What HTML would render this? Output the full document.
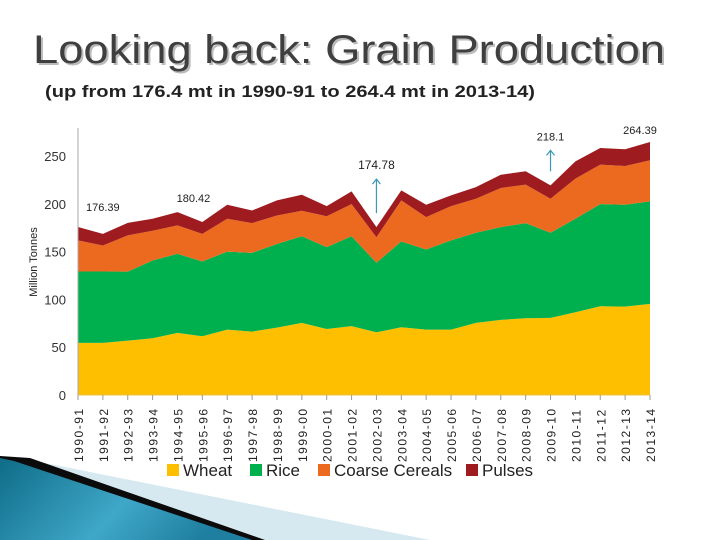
<!DOCTYPE html>
<html><head><meta charset="utf-8"><style>
html,body{margin:0;padding:0;background:#fff;}
svg{display:block;font-family:"Liberation Sans",sans-serif;}
</style></head><body>
<svg id="chart" width="720" height="540" viewBox="0 0 720 540">
  <g>
    <polygon points="0,456 40,462 430,540 0,540" fill="#d6e9f0"/>
    <polygon points="0,456 30,458 265,540 0,540" fill="#0b0b0b"/>
    <defs><linearGradient id="bl" x1="0" y1="0" x2="1" y2="0.3">
      <stop offset="0" stop-color="#0e6c87"/><stop offset="0.6" stop-color="#3fa7c8"/><stop offset="1" stop-color="#1f7fa0"/></linearGradient></defs>
    <polygon points="0,458 14,461 252,540 0,540" fill="url(#bl)"/>
  </g>
  <text x="33" y="63" font-size="40" fill="#bbb" textLength="632" lengthAdjust="spacingAndGlyphs" transform="translate(2,2)">Looking back: Grain Production</text>
  <text x="33" y="63" font-size="40" fill="#3f3f3f" textLength="632" lengthAdjust="spacingAndGlyphs">Looking back: Grain Production</text>
  <text x="45" y="97" font-size="17" font-weight="bold" fill="#222" textLength="490" lengthAdjust="spacingAndGlyphs">(up from 176.4 mt in 1990-91 to 264.4 mt in 2013-14)</text>
  <g id="plot"></g>
</svg>
<script>
const categories=["1990-91","1991-92","1992-93","1993-94","1994-95","1995-96","1996-97","1997-98","1998-99","1999-00","2000-01","2001-02","2002-03","2003-04","2004-05","2005-06","2006-07","2007-08","2008-09","2009-10","2010-11","2011-12","2012-13","2013-14"];
const wheat=[54.5,54.5,56.9,59.4,65,61.5,68.4,66.3,70.5,75.4,69.1,72,65.6,70.9,68.4,68.4,75.4,78.6,80.3,80.7,86.6,92.9,92.5,95.3];
const rice=[74.7,74.7,72.1,81.3,82.7,78.2,81.6,82.4,87.5,90.6,85.6,94,72.7,89.7,83.8,93.3,94.3,97,99.5,89,97.8,106.8,106.5,107.2];
const coarse=[32.5,27.2,38,31.1,29.7,28.9,34.4,31.1,29.8,26.7,32.3,33.7,26.7,43,33.8,35.9,35.6,40.9,40.2,35.6,41.9,41.3,40.5,43];
const pulses=[14,12.2,13,12.6,13.9,12.3,14.6,13.2,15.8,16.8,10.6,13.3,10.6,10.4,13,11.2,12.2,13.9,14,14,18.1,17.4,17.5,19.2];
const yTicks=[0,50,100,150,200,250];
const labels=[{i:0,v:"176.39",dy:-16,dx:-5},{i:4,v:"180.42",dy:-10,dx:16},{i:12,v:"174.78",dy:-58,dx:0,arrow:true},{i:19,v:"218.1",dy:-45,dx:0,arrow:true},{i:23,v:"264.39",dy:-8,dx:-10}];
const series=[{n:"Wheat",d:wheat,c:"#fdbf00"},{n:"Rice",d:rice,c:"#00b04f"},{n:"Coarse Cereals",d:coarse,c:"#ec6a1f"},{n:"Pulses",d:pulses,c:"#9e1b20"}];
const X0=78,X1=650,Y0=395,K=0.956;
const xs=i=>X0+(X1-X0)*i/(categories.length-1);
const ys=v=>Y0-v*K;
const NS="http://www.w3.org/2000/svg";
const g=document.getElementById('plot');
function mk(t,a,p){const e=document.createElementNS(NS,t);for(const k in a)e.setAttribute(k,a[k]);(p||g).appendChild(e);return e;}
let base=categories.map(()=>0);
series.forEach(s=>{
  const top=base.map((b,i)=>b+s.d[i]);
  let pts=top.map((v,i)=>xs(i)+","+ys(v));
  for(let i=categories.length-1;i>=0;i--)pts.push(xs(i)+","+ys(base[i]));
  const p=mk('polygon',{points:pts.join(' '),fill:s.c});
  
  
  base=top;
});
const total=base;
mk('line',{x1:X0,y1:128,x2:X0,y2:Y0,stroke:"#aaa","stroke-width":1});
mk('line',{x1:X0,y1:Y0,x2:X1,y2:Y0,stroke:"#f0c040","stroke-width":1});
yTicks.forEach(v=>{
  const t=mk('text',{x:66,y:ys(v)+5,"font-size":13,"text-anchor":"end",fill:"#333"});t.textContent=v;
  
  
});
const yl=mk('text',{transform:"translate(37,262) rotate(-90)","font-size":11,"text-anchor":"middle",fill:"#222"});yl.textContent="Million Tonnes";


categories.forEach((c,i)=>{
  mk('line',{x1:xs(i),y1:Y0,x2:xs(i),y2:Y0+5,stroke:"#999"});
  const t=mk('text',{transform:`translate(${xs(i)+5},462) rotate(-90)`,"font-size":12,fill:"#222","letter-spacing":"1.5"});t.textContent=c;
  
  
});
labels.forEach(l=>{
  const x=xs(l.i),y=ys(total[l.i]);
  if(l.arrow){
    mk('line',{x1:x,y1:y-14,x2:x,y2:y+l.dy+10,stroke:"#3a9ab5","stroke-width":1.2});
    mk('polyline',{points:`${x-4},${y+l.dy+15} ${x},${y+l.dy+10} ${x+4},${y+l.dy+15}`,fill:"none",stroke:"#3a9ab5","stroke-width":1.2});
  }
  const t=mk('text',{x:x+l.dx,y:y+l.dy,"font-size":l.i==12?12:11,"text-anchor":l.i==0?"start":"middle",fill:"#222"});t.textContent=l.v;
  if(l.i==0)t.setAttribute('x',x+8);
  
  
});
const lg=mk('g',{});


const lx=[167,250,318,466];
series.forEach((s,i)=>{
  mk('rect',{x:lx[i],y:464,width:12,height:12,fill:s.c},lg);
  const t=mk('text',{x:lx[i]+16,y:476,"font-size":17,fill:"#222"},lg);t.textContent=s.n;
  
  
});
</script>
</body></html>
